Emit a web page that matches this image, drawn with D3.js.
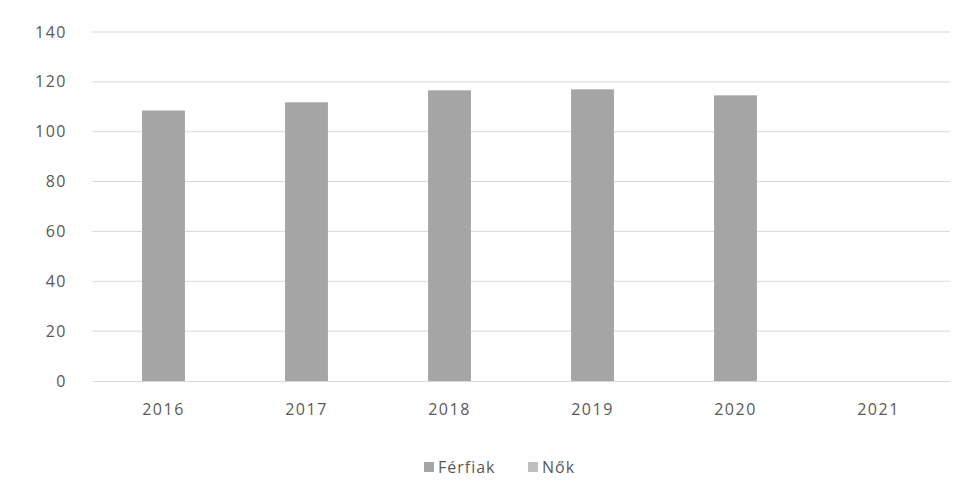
<!DOCTYPE html>
<html><head><meta charset="utf-8">
<script src="https://cdn.jsdelivr.net/npm/d3@7"></script>
<style>body{margin:0;background:#fff}svg{display:block}text{font-family:"Open Sans",Lato,sans-serif}</style>
</head><body><svg id="c" width="971" height="495"></svg>
<script>
const categories = ["2016","2017","2018","2019","2020","2021"];
const ferfiak = [108.5, 111.8, 116.6, 117.0, 114.6, 0];
const nok = [0, 0, 0, 0, 0, 0];
const seriesNames = ["Férfiak","Nők"];
const yTicks = [0,20,40,60,80,100,120,140];

const svg = d3.select("#c");
const m = {l:92, r:21, t:32, b:114};
const W = 971, H = 495;
const x = d3.scaleBand().domain(categories).range([m.l, W-m.r]).paddingInner(0.7).paddingOuter(0.35);
const y = d3.scaleLinear().domain([0,140]).range([H-m.b, m.t]);

// gridlines
svg.append("g").selectAll("line").data(yTicks.filter(d=>d>0)).join("line")
  .attr("x1", m.l).attr("x2", W-m.r).attr("y1", d=>y(d)).attr("y2", d=>y(d))
  .attr("stroke","#d9d9d9").attr("stroke-width",1);

const yAxis = svg.append("g").attr("transform",`translate(${m.l},0)`)
  .call(d3.axisLeft(y).tickValues(yTicks).tickSize(0).tickPadding(25));
yAxis.select(".domain").remove();
yAxis.selectAll("text").attr("font-size",16).attr("letter-spacing","1.5px").attr("fill","#595959");

const data = categories.map((c,i)=>({cat:c, "Férfiak":ferfiak[i], "Nők":nok[i]}));
const stack = d3.stack().keys(seriesNames)(data);
const colors = {"Férfiak":"#a5a5a5","Nők":"#bfbfbf"};
svg.append("g").selectAll("g").data(stack).join("g").attr("fill", d=>colors[d.key])
  .selectAll("rect").data(d=>d).join("rect")
  .attr("x", d=>x(d.data.cat)).attr("width", x.bandwidth())
  .attr("y", d=>y(d[1])).attr("height", d=>Math.max(0, y(d[0])-y(d[1])));

const xAxis = svg.append("g").attr("transform",`translate(0,${y(0)})`)
  .call(d3.axisBottom(x).tickSize(0).tickPadding(23));
xAxis.select(".domain").attr("stroke","#d9d9d9");
xAxis.selectAll("text").attr("font-size",16).attr("letter-spacing","1.5px").attr("fill","#595959");

// legend
const leg = svg.append("g");
const items = [{name:"Férfiak", x:424},{name:"Nők", x:528}];
items.forEach(it=>{
  leg.append("rect").attr("x",it.x).attr("y",462).attr("width",10).attr("height",10).attr("fill",colors[it.name]);
  leg.append("text").attr("x",it.x+14).attr("y",473).attr("font-size",16).attr("letter-spacing","1px").attr("fill","#595959").text(it.name);
});
</script></body></html>
